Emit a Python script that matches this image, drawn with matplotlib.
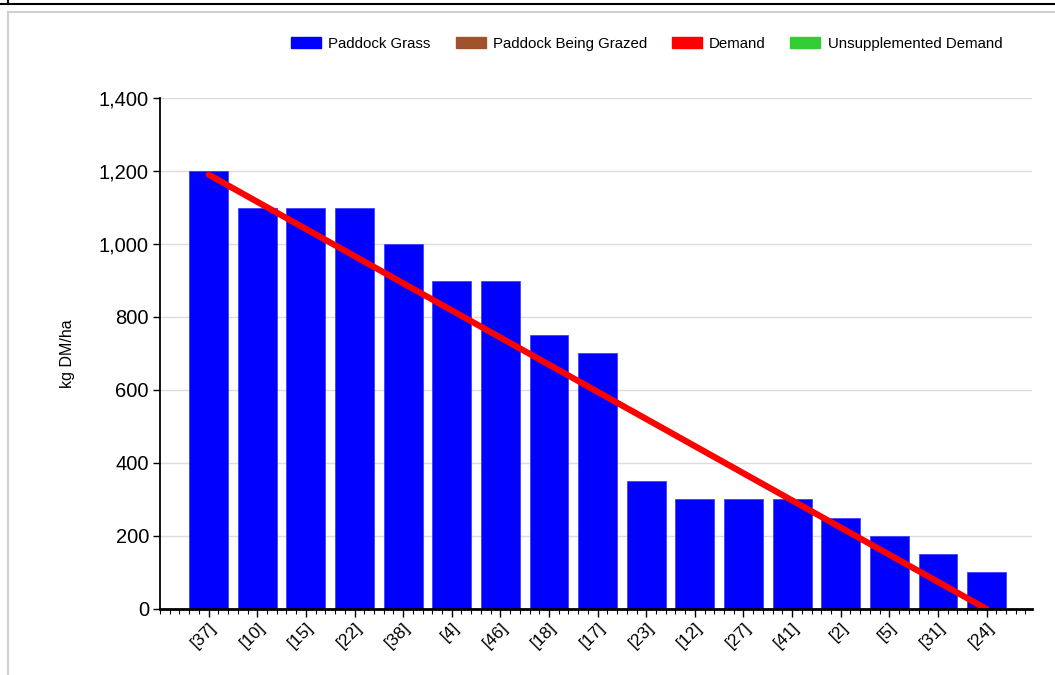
import numpy as np
import matplotlib
matplotlib.use('Agg')
import matplotlib.pyplot as plt
from matplotlib.patches import Patch
from matplotlib.lines import Line2D
from matplotlib.ticker import MultipleLocator, FuncFormatter

plt.rcParams['font.family'] = ['Liberation Sans', 'DejaVu Sans']

# data
paddocks = ["[37]", "[10]", "[15]", "[22]", "[38]", "[4]", "[46]", "[18]", "[17]",
            "[23]", "[12]", "[27]", "[41]", "[2]", "[5]", "[31]", "[24]"]
grass = [1200, 1100, 1100, 1100, 1000, 900, 900, 750, 700,
         350, 300, 300, 300, 250, 200, 150, 100]
demand_x = [0, 16]
demand_y = [1190, 0]

legend_names = ["Paddock Grass", "Paddock Being Grazed", "Demand", "Unsupplemented Demand"]
legend_cols = ["#0000ff", "#a0522d", "#ff0000", "#32cd32"]

fig = plt.figure(figsize=(10.55, 6.75), dpi=100)
ax = fig.add_axes([0.1517, 0.0978, 0.978 - 0.1517, 0.8548 - 0.0978])

x = np.arange(len(paddocks))
ax.bar(x, grass, width=0.8, color="#0000ff", edgecolor="#3333ff", linewidth=0.5, zorder=2)
ax.plot(demand_x, demand_y, color="#ff0000", lw=4.5, solid_capstyle='round', zorder=3)

ax.set_xlim(-1, 16.93)
ax.set_ylim(0, 1400)
ax.yaxis.set_major_locator(MultipleLocator(200))
ax.yaxis.set_major_formatter(FuncFormatter(lambda v, p: f"{int(v):,}"))
ax.grid(axis='y', color="#dcdcdc", lw=1, zorder=0)

ax.set_xticks(x)
ax.set_xticklabels(paddocks, rotation=45, ha='right', rotation_mode='anchor', fontsize=12.5)
ax.xaxis.set_minor_locator(MultipleLocator(0.2))
ax.tick_params(axis='x', which='major', length=6, width=1, pad=2)
ax.tick_params(axis='x', which='minor', length=3.5, width=0.8)
ax.tick_params(axis='y', length=5, width=1, labelsize=14.5, pad=3)

for s in ['top', 'right']:
    ax.spines[s].set_visible(False)
ax.spines['left'].set_linewidth(1.3)
ax.spines['bottom'].set_linewidth(2)
ax.spines['bottom'].set_zorder(4)

ax.set_ylabel("kg DM/ha", fontsize=11.5, labelpad=17)

handles = [Patch(facecolor=c, edgecolor=c) for c in legend_cols]
fig.legend(handles, legend_names, loc='center', bbox_to_anchor=(0.613, 0.935),
           ncol=4, frameon=False, fontsize=10.8, handlelength=2.0, handleheight=0.7,
           handletextpad=0.48, columnspacing=1.65)

# outer frames
fig.add_artist(Line2D([0, 1], [1 - 4 / 675, 1 - 4 / 675], color='black', lw=1.5))
fig.add_artist(Line2D([8 / 1055, 8 / 1055], [1, 1 - 4 / 675], color='black', lw=1.5))
fig.add_artist(Line2D([8 / 1055, 1], [1 - 12 / 675, 1 - 12 / 675], color='#d0d0d0', lw=1.5))
fig.add_artist(Line2D([8 / 1055, 8 / 1055], [0, 1 - 12 / 675], color='#d0d0d0', lw=1.5))

fig.savefig("out.png", dpi=100)
